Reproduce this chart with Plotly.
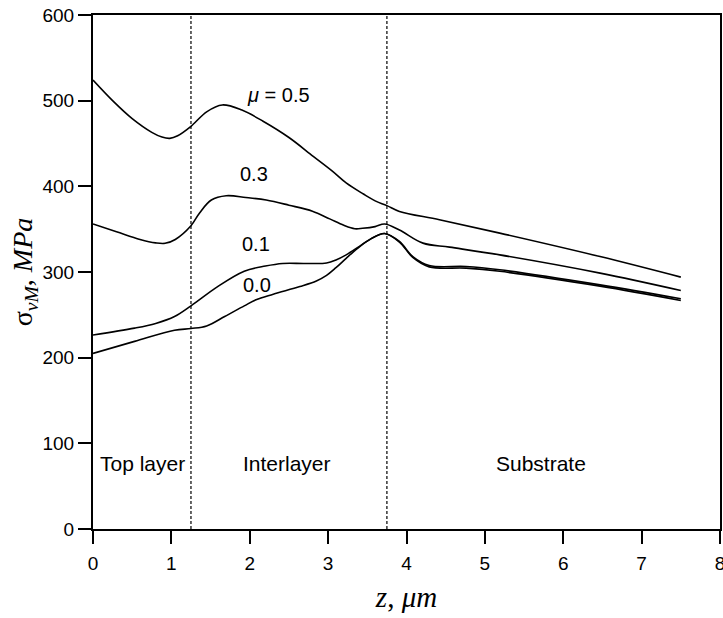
import plotly.graph_objects as go

# ---- data ----
z_05 = [0, 0.25, 0.5, 0.75, 0.88, 0.98, 1.08, 1.25, 1.45, 1.65, 1.9, 2.17, 2.5, 2.81, 3.05, 3.23, 3.45, 3.6, 3.75, 3.91, 4.42, 5.19, 6.47, 7.5]
s_05 = [524, 500, 479, 463, 457.5, 456, 459, 470, 487, 495, 489, 476, 457, 435, 418, 404, 391, 383, 377.5, 370.7, 361, 345.4, 318, 294]

z_03 = [0, 0.3, 0.6, 0.8, 0.92, 1.05, 1.25, 1.36, 1.51, 1.70, 1.95, 2.21, 2.5, 2.8, 3.02, 3.2, 3.34, 3.44, 3.6, 3.72, 3.91, 4.21, 4.55, 5.19, 6.47, 7.5]
s_03 = [356, 347, 338, 334, 333.5, 338, 354, 369, 384, 389, 387, 384, 378, 371, 362, 354.5, 350.5, 351, 353, 356, 349, 333.7, 329, 320, 298.7, 278.4]

z_01 = [0, 0.53, 0.8, 1.04, 1.25, 1.59, 1.93, 2.2, 2.42, 2.7, 2.98, 3.1, 3.23, 3.40, 3.55, 3.72, 3.91, 4.08, 4.29, 4.76, 5.19, 6.47, 7.5]
s_01 = [226.5, 234.5, 240, 248, 260.5, 283, 301, 307, 310, 310, 310.5, 314, 320, 330, 339, 345, 335.6, 318, 307.6, 306.4, 302.6, 285, 268.7]

z_00 = [0, 0.53, 1.04, 1.25, 1.45, 1.68, 1.93, 2.08, 2.3, 2.64, 2.85, 2.98, 3.1, 3.23, 3.38, 3.55, 3.72, 3.91, 4.08, 4.29, 4.76, 5.19, 6.47, 7.5]
s_00 = [205, 219, 232, 234, 237, 248, 260.5, 267.6, 274, 283, 289.5, 296, 305, 316, 328, 339, 345, 335, 317, 306, 304.5, 300.8, 283.5, 266.8]

curve_labels = ["<i>μ</i> = 0.5", "0.3", "0.1", "0.0"]
curve_label_x = [2.37, 2.05, 2.08, 2.09]
curve_label_y = [507, 414, 333, 285]

layer_bounds = [1.25, 3.75]
layer_names = ["Top layer", "Interlayer", "Substrate"]
layer_name_x = [0.63, 2.48, 5.72]
layer_name_y = [77, 77, 77]

x_ticks = [0, 1, 2, 3, 4, 5, 6, 7, 8]
y_ticks = [0, 100, 200, 300, 400, 500, 600]

SANS = "Liberation Sans, Arial, Helvetica"
SERIF = "Liberation Serif, Times New Roman, serif"

fig = go.Figure()
for zz, ss in [(z_05, s_05), (z_03, s_03), (z_01, s_01), (z_00, s_00)]:
    fig.add_trace(go.Scatter(x=zz, y=ss, mode="lines",
                             line=dict(color="black", width=1.6, shape="spline", smoothing=1.0),
                             showlegend=False, hoverinfo="skip"))

for b in layer_bounds:
    fig.add_shape(type="line", xref="x", yref="y", x0=b, x1=b, y0=0, y1=600,
                  line=dict(color="black", width=1.2, dash="3px,2px"))

for t, xv, yv in zip(curve_labels, curve_label_x, curve_label_y):
    fig.add_annotation(x=xv, y=yv, text=t, showarrow=False,
                       font=dict(family=SANS, size=20, color="black"))

for t, xv, yv in zip(layer_names, layer_name_x, layer_name_y):
    fig.add_annotation(x=xv, y=yv, text=t, showarrow=False,
                       font=dict(family=SANS, size=21, color="black"))

axis_common = dict(showline=True, linewidth=2, linecolor="black", mirror=True,
                   ticks="outside", ticklen=13, tickwidth=2, tickcolor="black",
                   showgrid=False, zeroline=False, ticklabeloverflow="allow",
                   tickfont=dict(family=SANS, size=19, color="black"))

fig.update_xaxes(range=[0, 8], tickvals=x_ticks, ticktext=[str(v) for v in x_ticks],
                 ticklabelstandoff=3,
                 title=dict(text="<i>z</i>, <i>μm</i>", standoff=14,
                            font=dict(family=SERIF, size=29, color="black")),
                 **axis_common)
fig.update_yaxes(range=[0, 600], tickvals=y_ticks, ticktext=[str(v) for v in y_ticks],
                 title=dict(text="σ<sub><i>vM</i></sub>, <i>MPa</i>", standoff=2,
                            font=dict(family=SERIF, size=28, color="black")),
                 **axis_common)

fig.update_layout(width=723, height=618, plot_bgcolor="white", paper_bgcolor="white",
                  margin=dict(l=93, r=3, t=15, b=89, autoexpand=False))

fig.write_html("out.html")
